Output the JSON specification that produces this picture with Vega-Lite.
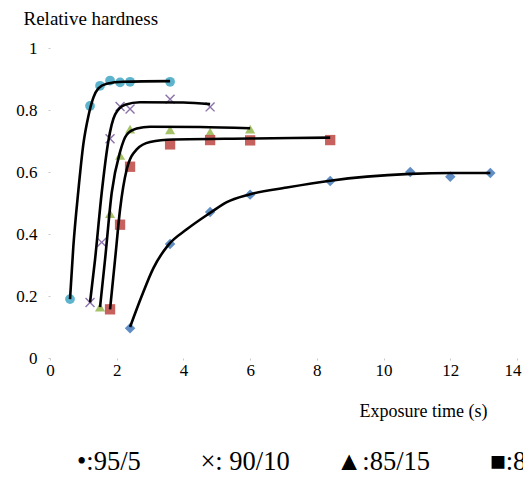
{
  "$schema": "https://vega.github.io/schema/vega-lite/v6.json",
  "autosize": {"type": "none"},
  "width": 467,
  "height": 310,
  "padding": {"left": 50, "top": 48, "right": 6, "bottom": 121},
  "background": "white",
  "config": {"view": {"stroke": null}},
  "title": {
    "text": "•:95/5\u00a0\u00a0\u00a0\u00a0\u00a0\u00a0\u00a0\u00a0\u00a0×: 90/10\u00a0\u00a0\u00a0\u00a0\u00a0\u00a0\u00a0▲:85/15\u00a0\u00a0\u00a0\u00a0\u00a0\u00a0\u00a0\u00a0\u00a0■:80/20",
    "orient": "bottom",
    "anchor": "start",
    "frame": "group",
    "font": "Liberation Serif, Times New Roman, DejaVu Serif, serif",
    "fontSize": 26.5,
    "fontWeight": "normal",
    "color": "black",
    "dx": 27,
    "offset": 29
  },
  "datasets": {
    "points": [
      {"series": "95/5", "time": 0.6, "hardness": 0.19},
      {"series": "95/5", "time": 1.2, "hardness": 0.813},
      {"series": "95/5", "time": 1.5, "hardness": 0.878},
      {"series": "95/5", "time": 1.8, "hardness": 0.895},
      {"series": "95/5", "time": 2.1, "hardness": 0.889},
      {"series": "95/5", "time": 2.4, "hardness": 0.891},
      {"series": "95/5", "time": 3.6, "hardness": 0.891},
      {"series": "90/10", "time": 1.2, "hardness": 0.179},
      {"series": "90/10", "time": 1.55, "hardness": 0.373},
      {"series": "90/10", "time": 1.8, "hardness": 0.707},
      {"series": "90/10", "time": 2.1, "hardness": 0.811},
      {"series": "90/10", "time": 2.4, "hardness": 0.803},
      {"series": "90/10", "time": 3.6, "hardness": 0.835},
      {"series": "90/10", "time": 4.8, "hardness": 0.81},
      {"series": "85/15", "time": 1.5, "hardness": 0.164},
      {"series": "85/15", "time": 1.8, "hardness": 0.466},
      {"series": "85/15", "time": 2.1, "hardness": 0.654},
      {"series": "85/15", "time": 2.4, "hardness": 0.738},
      {"series": "85/15", "time": 3.6, "hardness": 0.736},
      {"series": "85/15", "time": 4.8, "hardness": 0.729},
      {"series": "85/15", "time": 6.0, "hardness": 0.738},
      {"series": "80/20", "time": 1.8, "hardness": 0.157},
      {"series": "80/20", "time": 2.1, "hardness": 0.43},
      {"series": "80/20", "time": 2.4, "hardness": 0.617},
      {"series": "80/20", "time": 3.6, "hardness": 0.689},
      {"series": "80/20", "time": 4.8, "hardness": 0.703},
      {"series": "80/20", "time": 6.0, "hardness": 0.702},
      {"series": "80/20", "time": 8.4, "hardness": 0.703},
      {"series": "75/25", "time": 2.4, "hardness": 0.096},
      {"series": "75/25", "time": 3.6, "hardness": 0.368},
      {"series": "75/25", "time": 4.8, "hardness": 0.471},
      {"series": "75/25", "time": 6.0, "hardness": 0.527},
      {"series": "75/25", "time": 8.4, "hardness": 0.571},
      {"series": "75/25", "time": 10.8, "hardness": 0.6},
      {"series": "75/25", "time": 12.0, "hardness": 0.585},
      {"series": "75/25", "time": 13.2, "hardness": 0.597}
    ],
    "curves": [
      {"series": "95/5", "time": 0.6, "hardness": 0.19},
      {"series": "95/5", "time": 0.7, "hardness": 0.36},
      {"series": "95/5", "time": 0.85, "hardness": 0.54},
      {"series": "95/5", "time": 1.0, "hardness": 0.69},
      {"series": "95/5", "time": 1.15, "hardness": 0.78},
      {"series": "95/5", "time": 1.3, "hardness": 0.84},
      {"series": "95/5", "time": 1.45, "hardness": 0.87},
      {"series": "95/5", "time": 1.7, "hardness": 0.885},
      {"series": "95/5", "time": 2.2, "hardness": 0.891},
      {"series": "95/5", "time": 3.6, "hardness": 0.893},
      {"series": "90/10", "time": 1.2, "hardness": 0.179},
      {"series": "90/10", "time": 1.35, "hardness": 0.317},
      {"series": "90/10", "time": 1.55, "hardness": 0.533},
      {"series": "90/10", "time": 1.75, "hardness": 0.7},
      {"series": "90/10", "time": 1.95, "hardness": 0.785},
      {"series": "90/10", "time": 2.25, "hardness": 0.817},
      {"series": "90/10", "time": 2.7, "hardness": 0.825},
      {"series": "90/10", "time": 4.0, "hardness": 0.824},
      {"series": "90/10", "time": 4.8, "hardness": 0.819},
      {"series": "85/15", "time": 1.5, "hardness": 0.164},
      {"series": "85/15", "time": 1.65, "hardness": 0.317},
      {"series": "85/15", "time": 1.85, "hardness": 0.533},
      {"series": "85/15", "time": 2.1, "hardness": 0.665},
      {"series": "85/15", "time": 2.3, "hardness": 0.72},
      {"series": "85/15", "time": 2.6, "hardness": 0.74},
      {"series": "85/15", "time": 3.0, "hardness": 0.746},
      {"series": "85/15", "time": 4.5, "hardness": 0.745},
      {"series": "85/15", "time": 6.0, "hardness": 0.741},
      {"series": "80/20", "time": 1.8, "hardness": 0.157},
      {"series": "80/20", "time": 1.95, "hardness": 0.317},
      {"series": "80/20", "time": 2.1, "hardness": 0.479},
      {"series": "80/20", "time": 2.3, "hardness": 0.608},
      {"series": "80/20", "time": 2.6, "hardness": 0.673},
      {"series": "80/20", "time": 3.0, "hardness": 0.697},
      {"series": "80/20", "time": 3.7, "hardness": 0.705},
      {"series": "80/20", "time": 6.0, "hardness": 0.708},
      {"series": "80/20", "time": 8.4, "hardness": 0.711},
      {"series": "75/25", "time": 2.4, "hardness": 0.1},
      {"series": "75/25", "time": 2.75, "hardness": 0.2},
      {"series": "75/25", "time": 3.1, "hardness": 0.29},
      {"series": "75/25", "time": 3.55, "hardness": 0.365},
      {"series": "75/25", "time": 4.1, "hardness": 0.415},
      {"series": "75/25", "time": 4.8, "hardness": 0.468},
      {"series": "75/25", "time": 5.3, "hardness": 0.503},
      {"series": "75/25", "time": 5.95, "hardness": 0.527},
      {"series": "75/25", "time": 7.1, "hardness": 0.55},
      {"series": "75/25", "time": 8.4, "hardness": 0.572},
      {"series": "75/25", "time": 9.5, "hardness": 0.585},
      {"series": "75/25", "time": 10.8, "hardness": 0.594},
      {"series": "75/25", "time": 12.0, "hardness": 0.597},
      {"series": "75/25", "time": 13.2, "hardness": 0.597}
    ]
  },
  "encoding": {
    "x": {
      "field": "time",
      "type": "quantitative",
      "scale": {"domain": [0, 14], "nice": false, "zero": false},
      "axis": {
        "values": [0, 2, 4, 6, 8, 10, 12, 14],
        "grid": false,
        "domain": false,
        "labelFlush": false,
        "labelAlign": {"condition": {"test": "datum.value == 14", "value": "right"}, "value": "center"},
        "labelOffset": {"condition": {"test": "datum.value == 14", "value": 4}, "value": 0},
        "tickSize": 2,
        "tickColor": "#c8c8c8",
        "labelFont": "Liberation Serif, Times New Roman, DejaVu Serif, serif",
        "labelFontSize": 17,
        "labelColor": "black",
        "labelPadding": 2,
        "title": "Exposure time (s)",
        "titleFont": "Liberation Serif, Times New Roman, DejaVu Serif, serif",
        "titleFontSize": 18,
        "titleFontWeight": "normal",
        "titleColor": "black",
        "titleAlign": "center",
        "titleBaseline": "alphabetic",
        "titleX": 373,
        "titleY": 58
      }
    },
    "y": {
      "field": "hardness",
      "type": "quantitative",
      "scale": {"domain": [0, 1], "nice": false},
      "axis": {
        "values": [0, 0.2, 0.4, 0.6, 0.8, 1],
        "format": "~g",
        "grid": false,
        "domain": false,
        "labelFlush": false,
        "tickSize": 2,
        "tickColor": "#c8c8c8",
        "labelFont": "Liberation Serif, Times New Roman, DejaVu Serif, serif",
        "labelFontSize": 17,
        "labelColor": "black",
        "labelPadding": 11,
        "title": "Relative hardness",
        "titleFont": "Liberation Serif, Times New Roman, DejaVu Serif, serif",
        "titleFontSize": 19,
        "titleFontWeight": "normal",
        "titleColor": "black",
        "titleAngle": 0,
        "titleAlign": "left",
        "titleBaseline": "alphabetic",
        "titleX": -27,
        "titleY": -24
      }
    }
  },
  "layer": [
    {
      "data": {"name": "points"},
      "mark": {"type": "point", "filled": true, "opacity": 0.9, "strokeWidth": 0},
      "encoding": {
        "color": {
          "field": "series",
          "type": "nominal",
          "scale": {
            "domain": ["95/5", "90/10", "85/15", "80/20", "75/25"],
            "range": ["#4BACC6", "#8064A2", "#9BBB59", "#C0504D", "#4F81BD"]
          },
          "legend": null
        },
        "shape": {
          "field": "series",
          "type": "nominal",
          "scale": {
            "domain": ["95/5", "90/10", "85/15", "80/20", "75/25"],
            "range": [
              "circle",
              "M-1,-0.8L-0.8,-1L0,-0.2L0.8,-1L1,-0.8L0.2,0L1,0.8L0.8,1L0,0.2L-0.8,1L-1,0.8L-0.2,0Z",
              "triangle-up",
              "square",
              "diamond"
            ]
          },
          "legend": null
        },
        "size": {
          "field": "series",
          "type": "nominal",
          "scale": {
            "domain": ["95/5", "90/10", "85/15", "80/20", "75/25"],
            "range": [95, 110, 85, 90, 75]
          },
          "legend": null
        }
      }
    },
    {
      "data": {"name": "curves"},
      "mark": {"type": "line", "color": "black", "strokeWidth": 2.6, "interpolate": "monotone"},
      "encoding": {
        "detail": {"field": "series", "type": "nominal"}
      }
    }
  ]
}
